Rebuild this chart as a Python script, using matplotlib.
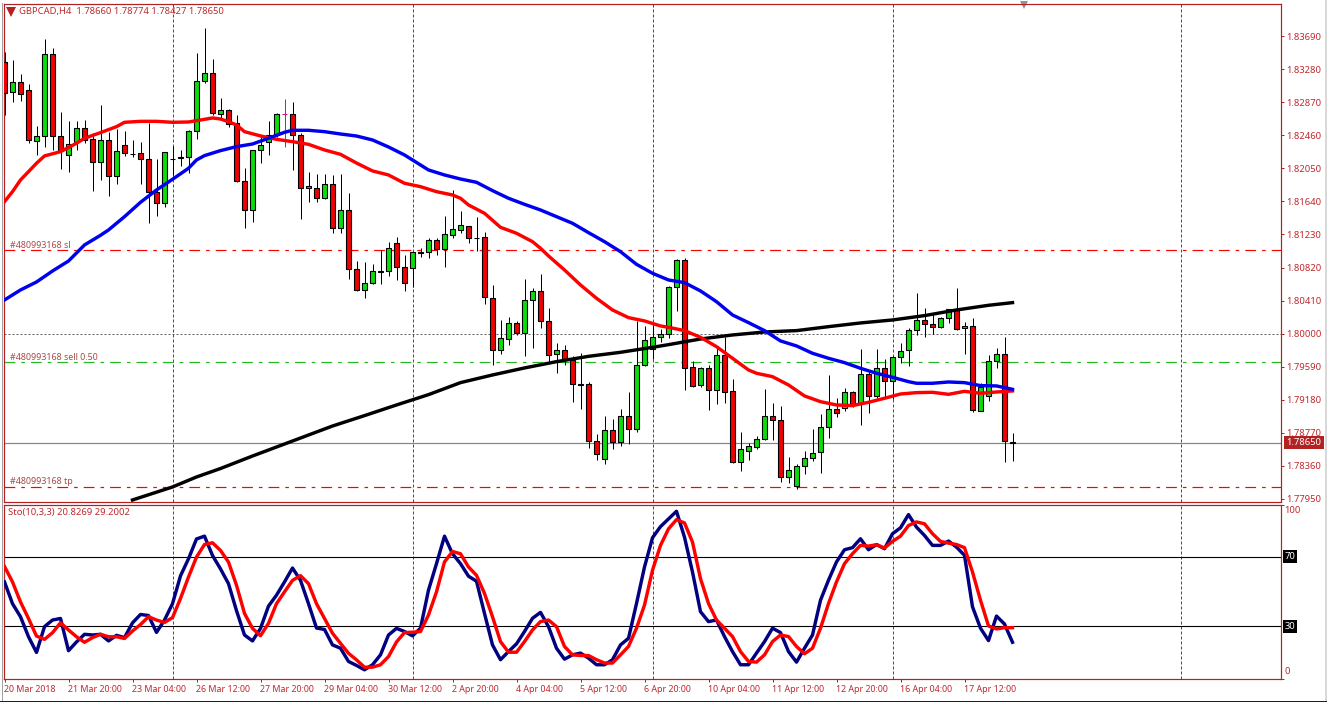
import matplotlib
matplotlib.use('Agg')
import matplotlib.pyplot as plt
import numpy as np

W, H = 1330, 702
PX = 72 / 100  # one pixel in points at dpi=100

opens = [1.83373, 1.82993, 1.83125, 1.83018, 1.82385, 1.82447, 1.83464, 1.82447, 1.82212, 1.82381,
         1.82547, 1.82410, 1.82125, 1.82398, 1.81951, 1.82336, 1.82233, 1.82237, 1.82162, 1.81753,
         1.81617, 1.82160, 1.82179, 1.82187, 1.82509, 1.83129, 1.83229, 1.82720, 1.82770, 1.82609,
         1.81890, 1.81530, 1.82274, 1.82373, 1.82468, 1.82720, 1.82720, 1.82460, 1.81803, 1.81803,
         1.81679, 1.81852, 1.81307, 1.81530, 1.80798, 1.80538, 1.80625, 1.80773, 1.80773, 1.81121,
         1.80823, 1.80811, 1.81009, 1.81009, 1.81158, 1.81046, 1.81220, 1.81282, 1.81331, 1.81187,
         1.81195, 1.80439, 1.79794, 1.79930, 1.80129, 1.80005, 1.80414, 1.80525, 1.80153, 1.79744,
         1.79794, 1.79670, 1.79372, 1.79372, 1.78665, 1.78442, 1.78802, 1.78653, 1.78975, 1.78814,
         1.79608, 1.79806, 1.79955, 1.79996, 1.80575, 1.80910, 1.79583, 1.79368, 1.79571, 1.79306,
         1.79732, 1.79285, 1.78413, 1.78550, 1.78599, 1.78690, 1.78975, 1.78926, 1.78219, 1.78116,
         1.78355, 1.78455, 1.78529, 1.78839, 1.79062, 1.79075, 1.79273, 1.79137, 1.79496, 1.79223,
         1.79571, 1.79409, 1.79715, 1.79794, 1.80042, 1.80166, 1.80116, 1.80079, 1.80191, 1.80302,
         1.80067, 1.80091, 1.79046, 1.79223, 1.79657, 1.79744, 1.78660]
highs = [1.83497, 1.83394, 1.83220, 1.83092, 1.82576, 1.83654, 1.83539, 1.82749, 1.82638, 1.82638,
         1.82650, 1.82485, 1.82836, 1.82497, 1.82538, 1.82514, 1.82402, 1.82373, 1.82609, 1.82166,
         1.82257, 1.82328, 1.82278, 1.82526, 1.83477, 1.83787, 1.83402, 1.82919, 1.82786, 1.82712,
         1.82051, 1.82282, 1.82464, 1.82638, 1.82733, 1.82910, 1.82869, 1.82485, 1.82001, 1.81980,
         1.81980, 1.81968, 1.81980, 1.81741, 1.80897, 1.80885, 1.80864, 1.81038, 1.81137, 1.81199,
         1.80976, 1.81017, 1.81059, 1.81183, 1.81183, 1.81460, 1.81782, 1.81517, 1.81336, 1.81443,
         1.81261, 1.80600, 1.80170, 1.80207, 1.80162, 1.80678, 1.80567, 1.80736, 1.80315, 1.79885,
         1.79860, 1.79724, 1.79761, 1.79397, 1.78756, 1.78980, 1.78942, 1.79066, 1.79277, 1.80162,
         1.80096, 1.80104, 1.80058, 1.80592, 1.80926, 1.80935, 1.79657, 1.79583, 1.79612, 1.79819,
         1.79955, 1.79438, 1.78781, 1.78649, 1.78732, 1.79314, 1.79141, 1.79104, 1.78471, 1.78384,
         1.78546, 1.78818, 1.79004, 1.79488, 1.79203, 1.79323, 1.79290, 1.79810, 1.79538, 1.79810,
         1.79682, 1.79724, 1.79881, 1.80067, 1.80505, 1.80315, 1.80244, 1.80203, 1.80311, 1.80567,
         1.80141, 1.80191, 1.79385, 1.79736, 1.79823, 1.79955, 1.78774]
lows = [1.82712, 1.82877, 1.82890, 1.82369, 1.82216, 1.82319, 1.82278, 1.82047, 1.82009, 1.82278,
        1.82361, 1.81770, 1.81906, 1.81708, 1.81856, 1.82208, 1.82195, 1.81856, 1.81377, 1.81460,
        1.81575, 1.81968, 1.82084, 1.81989, 1.82414, 1.83105, 1.82712, 1.82671, 1.82567, 1.81885,
        1.81315, 1.81389, 1.82121, 1.82216, 1.82443, 1.82319, 1.82030, 1.81422, 1.81637, 1.81637,
        1.81670, 1.81253, 1.81253, 1.80683, 1.80534, 1.80447, 1.80616, 1.80616, 1.80716, 1.80666,
        1.80534, 1.80575, 1.80955, 1.80943, 1.80980, 1.80831, 1.81191, 1.81245, 1.81121, 1.81030,
        1.80368, 1.79616, 1.79748, 1.79864, 1.79984, 1.79728, 1.79827, 1.80075, 1.79633, 1.79517,
        1.79612, 1.79157, 1.79071, 1.78587, 1.78438, 1.78389, 1.78566, 1.78612, 1.78637, 1.78785,
        1.79600, 1.79682, 1.79897, 1.79943, 1.80282, 1.79306, 1.79343, 1.79339, 1.79054, 1.79133,
        1.79137, 1.78401, 1.78302, 1.78434, 1.78575, 1.78682, 1.78682, 1.78165, 1.78153, 1.78070,
        1.78260, 1.78426, 1.78277, 1.78711, 1.78963, 1.79046, 1.79095, 1.78868, 1.79021, 1.79199,
        1.79211, 1.79186, 1.79641, 1.79604, 1.79988, 1.79963, 1.79996, 1.80067, 1.80137, 1.80050,
        1.79744, 1.79025, 1.79037, 1.79170, 1.79579, 1.78413, 1.78427]
closes = [1.82981, 1.83125, 1.82968, 1.82398, 1.82447, 1.83464, 1.82447, 1.82266, 1.82357, 1.82547,
          1.82398, 1.82125, 1.82398, 1.81951, 1.82261, 1.82237, 1.82224, 1.82162, 1.81753, 1.81617,
          1.82249, 1.82171, 1.82187, 1.82509, 1.83129, 1.83229, 1.82733, 1.82770, 1.82596, 1.81890,
          1.81530, 1.82274, 1.82336, 1.82468, 1.82720, 1.82720, 1.82460, 1.81803, 1.81827, 1.81679,
          1.81852, 1.81307, 1.81530, 1.80807, 1.80538, 1.80625, 1.80773, 1.80769, 1.81067, 1.80823,
          1.80625, 1.81009, 1.81005, 1.81158, 1.81046, 1.81232, 1.81294, 1.81344, 1.81183, 1.81191,
          1.80451, 1.79794, 1.79943, 1.80129, 1.80005, 1.80414, 1.80525, 1.80153, 1.79732, 1.79794,
          1.79682, 1.79372, 1.79368, 1.78665, 1.78504, 1.78802, 1.78653, 1.78975, 1.78814, 1.79608,
          1.79918, 1.79955, 1.79996, 1.80575, 1.80910, 1.79579, 1.79356, 1.79571, 1.79306, 1.79732,
          1.79281, 1.78413, 1.78566, 1.78603, 1.78690, 1.78975, 1.78926, 1.78219, 1.78306, 1.78355,
          1.78455, 1.78517, 1.78839, 1.79062, 1.79013, 1.79273, 1.79124, 1.79496, 1.79223, 1.79571,
          1.79409, 1.79715, 1.79790, 1.80042, 1.80166, 1.80116, 1.80079, 1.80191, 1.80302, 1.80054,
          1.80091, 1.79050, 1.79335, 1.79657, 1.79744, 1.78665, 1.78650]

# moving averages, bar number and value
ma_red_bars = [0, 1, 2, 3, 4, 5, 7, 9, 10, 12, 14, 15, 17, 19, 21, 23, 25, 26, 27, 28, 29, 30, 32, 34, 36, 38, 40, 42,
               44, 46, 48, 50, 52, 54, 56, 57, 58, 60, 62, 64, 66, 67, 68, 70, 72, 74, 76, 78, 80, 82, 83,
               85, 87, 89, 91, 93, 94, 96, 98, 100, 102, 104, 106, 108, 110, 112, 114, 116, 118, 120, 122, 124, 126]
ma_red = [1.81637, 1.81761, 1.81906, 1.82009, 1.82113, 1.82204, 1.82257, 1.82361, 1.82423, 1.82493, 1.82567, 1.82621,
          1.82633, 1.82633, 1.82621, 1.82625, 1.82658, 1.82675, 1.82662, 1.82629, 1.82588, 1.82505, 1.82452, 1.82410,
          1.82381, 1.82348, 1.82278, 1.82224,
          1.82116, 1.82018, 1.81968, 1.81865, 1.81823, 1.81761, 1.81720, 1.81679, 1.81596, 1.81493, 1.81319, 1.81245,
          1.81141, 1.81059, 1.80964, 1.80790, 1.80604, 1.80439, 1.80294, 1.80199, 1.80158, 1.80096, 1.80079,
          1.80038, 1.79955, 1.79839, 1.79695, 1.79550, 1.79509, 1.79467, 1.79364, 1.79228, 1.79157, 1.79116, 1.79108,
          1.79149, 1.79199, 1.79252, 1.79269, 1.79273, 1.79248, 1.79285, 1.79261, 1.79277, 1.79290]
ma_blue_bars = [0, 2, 4, 6, 8, 10, 12, 13, 15, 17, 19, 21, 23, 24, 25, 27, 29, 31, 33, 35, 36, 38, 40, 42,
                44, 46, 48, 50, 52, 53, 55, 57, 59, 61, 63, 65, 67, 69, 71, 73, 75, 77, 79, 81, 83,
                85, 87, 89, 91, 93, 95, 97, 99, 101, 103, 105, 107, 109, 111, 113, 114, 116, 118, 120, 122, 124, 126]
ma_blue = [1.80418, 1.80542, 1.80641, 1.80777, 1.80901, 1.81100, 1.81220, 1.81286, 1.81451, 1.81629, 1.81782, 1.81914,
           1.82051, 1.82154, 1.82208, 1.82270, 1.82319, 1.82352, 1.82423, 1.82497, 1.82522, 1.82522, 1.82505, 1.82476,
           1.82451, 1.82402, 1.82315, 1.82216, 1.82092, 1.82030, 1.81968, 1.81918, 1.81877, 1.81774, 1.81679, 1.81604,
           1.81534, 1.81451, 1.81369, 1.81253, 1.81141, 1.81017, 1.80860, 1.80749, 1.80666,
           1.80633, 1.80530, 1.80397, 1.80232, 1.80137, 1.80038, 1.79910, 1.79848, 1.79757, 1.79695, 1.79641, 1.79571,
           1.79509, 1.79459, 1.79405, 1.79385, 1.79385, 1.79401, 1.79393, 1.79356, 1.79352, 1.79310]
ma_black_bars = [16, 21, 24, 27, 31, 36, 41, 45, 49, 53, 57, 61, 65, 69, 73, 77, 81, 83,
                 87, 91, 95, 99, 103, 107, 111, 115, 119, 123, 126]
ma_black = [1.77938, 1.78099, 1.78223, 1.78328, 1.78483, 1.78669, 1.78855, 1.78984, 1.79116, 1.79244, 1.79393,
            1.79488, 1.79575, 1.79653, 1.79719, 1.79769, 1.79831, 1.79864,
            1.79934, 1.79984, 1.80021, 1.80038, 1.80087, 1.80133, 1.80170, 1.80224, 1.80294, 1.80352, 1.80385]

sto_main = [55.5, 43, 35.5, 24, 15, 29.8, 33.6, 34.5, 16, 21, 25.4, 25, 25.4, 21.6, 24.8, 23.5, 32, 36.8, 36.2, 26.5,
            33.6, 43, 59, 68.8, 80.2, 81.8, 70.7, 63, 54.5, 39, 25, 21.6, 28.8, 41.6, 47.9, 55.5, 63.5, 56.4, 43, 29,
            28.2, 19.3, 17.4, 9.8, 7.5, 5, 7.9, 13.6, 25, 28.8,
            27, 24.5, 28.9, 50.8, 66, 81.8, 71.7, 66, 58.8, 55.9, 37.4, 19.3, 10.8, 15.5, 19.9, 27, 34.6, 38, 29.8, 17.4,
            11.1, 13.6, 14.6, 11.7, 7.9, 7.9, 10.8, 19.3, 23.1, 43.1, 64.1, 80.9, 87.3, 91.7, 96.1, 81.2, 61.2, 38.4,
            32.7, 33.6,
            24.1, 15.5, 7.9, 7.9, 14.6, 21.2, 28.9, 26.4, 15.5, 9.4, 17.4, 25, 45, 56.5, 67, 74, 75.2, 80.3, 74, 77, 74.6,
            83.2, 86.6, 94.2, 87, 82.2, 76.5, 76.5, 79, 75.5, 70.8, 41.2, 28.9, 21.8, 35.9, 31.3, 20.83]
sto_signal = [64.4, 55.5, 44, 34.5, 24.4, 22.5, 26.3, 32, 27.9, 24, 20.8, 23.5, 25.4, 24, 24, 23, 27.3, 31, 35.5, 33.6,
              32.2, 35, 46, 58.3, 69.8, 77, 78, 73.6, 66.9, 53.6, 37.4, 28.8, 24.6, 31.7, 43, 49.8, 56.4, 59.1, 54.5, 43,
              34.5, 26, 20.2, 14.5, 10.7, 6.5, 6.5, 7.9, 12.6, 21,
              26.4, 26.6, 27, 36.5, 49.8, 67, 73, 71.7, 64.1, 59.3, 48.9, 35.5, 21.2, 15.1, 15.1, 21.2, 27.9, 32.7, 33.6,
              29.8, 18.4, 13.6, 13.2, 13.2, 10.8, 8.9, 8.9, 13.6, 18.4, 28.9, 42.2, 62.2, 76.5, 86, 91.3, 89.4, 78.4, 57.4,
              43.1, 33.6,
              28.9, 24.1, 15.5, 9.8, 9.4, 13.6, 21.2, 25, 24.1, 18.4, 14.2, 17.4, 28.9, 43.1, 55.5, 66, 71.7, 76.5, 76.1,
              76.9, 75, 78.8, 81.8, 87.9, 90, 88.9, 83.2, 78.8, 77.8, 77, 75.2, 61.2, 45, 30.2, 28.5, 29.2, 29.2]

price_ticks = [1.83690, 1.83280, 1.82870, 1.82460, 1.82050, 1.81640, 1.81230, 1.80820, 1.80410, 1.80000,
               1.79590, 1.79180, 1.78770, 1.78360, 1.77950]
time_labels = ['20 Mar 2018', '21 Mar 20:00', '23 Mar 04:00', '26 Mar 12:00', '27 Mar 20:00', '29 Mar 04:00',
               '30 Mar 12:00', '2 Apr 20:00', '4 Apr 04:00', '5 Apr 12:00', '6 Apr 20:00', '10 Apr 04:00',
               '11 Apr 12:00', '12 Apr 20:00', '16 Apr 04:00', '17 Apr 12:00']
day_breaks = [21, 51, 81, 111, 147]
order_sl = 1.81038
order_open = 1.79655
order_tp = 1.78105
round_level = 1.80000
bid = 1.78650

FRAME = '#B22222'
TXT = '#C0282C'
FS = 6.8
plt.rcParams['font.family'] = ['Noto Sans', 'DejaVu Sans']
plt.rcParams['font.size'] = FS


def px_box(left, top, right, bottom):
    return [left / W, 1 - bottom / H, (right - left) / W, (bottom - top) / H]


fig = plt.figure(figsize=(W / 100, H / 100), dpi=100, facecolor='white')
ax = fig.add_axes(px_box(3.5, 3.5, 1280.5, 501.5))
ax_sto = fig.add_axes(px_box(3.5, 504.5, 1280.5, 678.5))

# bar n sits at 4.5 + 8 n pixels
xlim = ((3.5 - 4.5) / 8, (1280.5 - 4.5) / 8)
price_at = lambda y: 1.7795 + (499 - y) * 0.000124
for a in (ax, ax_sto):
    a.set_xlim(xlim)
    for s in a.spines.values():
        s.set_color(FRAME)
        s.set_linewidth(PX * 1.2)
    for b in day_breaks:
        a.axvline(b, color=FRAME, lw=PX, ls=(0, (3, 2)), zorder=1)
ax.set_ylim(price_at(501.5), price_at(3.5))
ax_sto.set_ylim(0, 100)

# order levels, round number, bid
ax.axhline(order_sl, color='#FF0000', lw=PX * 1.2, ls=(0, (9, 5, 3, 5)), zorder=1)
ax.axhline(order_open, color='#22B822', lw=PX * 1.2, ls=(0, (9, 5, 3, 5)), zorder=1)
ax.axhline(order_tp, color='#FF0000', lw=PX * 1.2, ls=(0, (9, 5, 3, 5)), zorder=1)
ax.axhline(round_level, color='#606060', lw=PX, ls=(0, (2, 2)), zorder=1)
ax.axhline(bid, color='#778899', lw=PX * 1.2, zorder=1)

# candles
bars = np.arange(len(opens))
o, h, l, c = map(np.array, (opens, highs, lows, closes))
flat = o == c
ax.vlines(bars[~flat], l[~flat], h[~flat], color='black', lw=PX, zorder=2)
ax.vlines(bars[flat], l[flat], h[flat], color='#D0108C', lw=PX, zorder=2)
ax.hlines(o[flat], bars[flat] - 0.3, bars[flat] + 0.3, color='#D0108C', lw=PX, zorder=3)
up = c > o
down = c < o
ax.bar(bars[up], (c - o)[up], bottom=o[up], width=0.55, color='#0CDC0C', edgecolor='black', linewidth=PX * 1.1, zorder=3)
ax.bar(bars[down], (o - c)[down], bottom=c[down], width=0.55, color='#F00000', edgecolor='black', linewidth=PX * 1.1, zorder=3)

ax.plot(ma_black_bars, ma_black, color='black', lw=PX * 3.4, zorder=4)
ax.plot(ma_red_bars, ma_red, color='#FF0000', lw=PX * 3.4, zorder=5)
ax.plot(ma_blue_bars, ma_blue, color='#0000F0', lw=PX * 3.4, zorder=6)

# price scale on the right
ax.yaxis.tick_right()
ax.set_yticks(price_ticks, ['%.5f' % p for p in price_ticks])
ax.tick_params(axis='y', length=3 * PX, width=PX, color=FRAME, labelcolor=TXT, pad=3 * PX, labelsize=FS)
ax.set_xticks([])

ax.annotate('%.5f' % bid, xy=(1, bid), xycoords=('axes fraction', 'data'), xytext=(6 * PX, 0),
            textcoords='offset points', ha='left', va='center', color='white', fontsize=FS, zorder=9,
            bbox=dict(boxstyle='square,pad=0.25', fc=FRAME, ec=FRAME, lw=0), annotation_clip=False)

ax.text(15.5 / 1277, 1 - 8 / 498, 'GBPCAD,H4  1.78660 1.78774 1.78427 1.78650', transform=ax.transAxes,
        color=TXT, fontsize=FS, ha='left', va='center')
ax.plot([7 / 1277], [1 - 8 / 498], marker='v', ms=6.5, color=FRAME, mew=0, transform=ax.transAxes)
ax.plot([1020 / 1277], [1 - 1 / 498], marker='v', ms=5.5, color='#8C949C', mew=0, transform=ax.transAxes, clip_on=False)

for txt, level in (('#480993168 sl', order_sl), ('#480993168 sell 0.50', order_open), ('#480993168 tp', order_tp)):
    ax.annotate(txt, xy=(0, level), xycoords=('axes fraction', 'data'), xytext=(7 * PX, 4.5 * PX),
                textcoords='offset points', color='#A84848', fontsize=FS - 0.4, va='center', ha='left')

# stochastic pane
ax_sto.axhline(70, color='black', lw=PX * 1.1, zorder=2)
ax_sto.axhline(30, color='black', lw=PX * 1.1, zorder=2)
ax_sto.plot(bars, sto_main, color='#000080', lw=PX * 3.4, zorder=3)
ax_sto.plot(bars, sto_signal, color='#FF0000', lw=PX * 3.4, zorder=4)
ax_sto.text(4.5 / 1277, 1 - 8 / 174, 'Sto(10,3,3) 20.8269 29.2002', transform=ax_sto.transAxes, color=TXT,
            fontsize=FS, ha='left', va='center')
ax_sto.yaxis.tick_right()
ax_sto.set_yticks([100, 0], ['', ''])
ax_sto.tick_params(axis='y', length=3 * PX, width=PX, color=FRAME)
for level, dy in ((100, -6), (0, 7)):
    ax_sto.annotate(str(level), xy=(1, level), xycoords=('axes fraction', 'data'), xytext=(4 * PX, dy * PX),
                    textcoords='offset points', color=TXT, fontsize=FS, ha='left', va='center')
for level in (70, 30):
    ax_sto.annotate(str(level), xy=(1, level), xycoords=('axes fraction', 'data'), xytext=(4 * PX, 0),
                    textcoords='offset points', color='white', fontsize=FS, ha='left', va='center',
                    bbox=dict(boxstyle='square,pad=0.2', fc='black', ec='black', lw=0))

tick_bars = np.arange(len(time_labels)) * 8
ax_sto.set_xticks(tick_bars, time_labels, ha='left', color=TXT, fontsize=FS - 0.4)
ax_sto.tick_params(axis='x', length=3 * PX, width=PX, color=FRAME, pad=3 * PX)

# window edges
fig.add_artist(plt.Line2D([1325.5 / W, 1325.5 / W], [0, 1], color='#D8D8D8', lw=PX * 2))
fig.add_artist(plt.Line2D([0, 1325.5 / W], [1 - 700.5 / H, 1 - 700.5 / H], color='#202020', lw=PX))
fig.add_artist(plt.Line2D([1.5 / W, 1.5 / W], [1 - 3 / H, 1 - 700 / H], color='#A0A0A0', lw=PX))

fig.savefig('out.png', dpi=100, facecolor='white')
